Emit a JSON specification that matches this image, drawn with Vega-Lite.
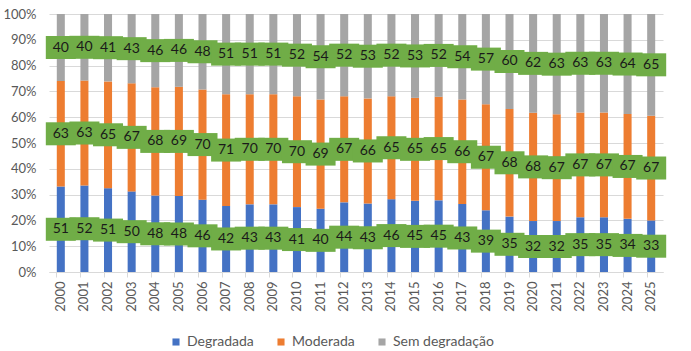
{
  "$schema": "https://vega.github.io/schema/vega-lite/v6.json",
  "width": 614,
  "height": 258,
  "autosize": {"type": "none"},
  "padding": {"left": 49, "top": 14, "right": 28, "bottom": 79},
  "background": "white",
  "config": {"view": {"stroke": null}, "font": "Lato"},
  "data": {"values": [
    {"year": "2000", "serie": "Degradada", "value": 51}, {"year": "2000", "serie": "Moderada", "value": 63}, {"year": "2000", "serie": "Sem degradação", "value": 40},
    {"year": "2001", "serie": "Degradada", "value": 52}, {"year": "2001", "serie": "Moderada", "value": 63}, {"year": "2001", "serie": "Sem degradação", "value": 40},
    {"year": "2002", "serie": "Degradada", "value": 51}, {"year": "2002", "serie": "Moderada", "value": 65}, {"year": "2002", "serie": "Sem degradação", "value": 41},
    {"year": "2003", "serie": "Degradada", "value": 50}, {"year": "2003", "serie": "Moderada", "value": 67}, {"year": "2003", "serie": "Sem degradação", "value": 43},
    {"year": "2004", "serie": "Degradada", "value": 48}, {"year": "2004", "serie": "Moderada", "value": 68}, {"year": "2004", "serie": "Sem degradação", "value": 46},
    {"year": "2005", "serie": "Degradada", "value": 48}, {"year": "2005", "serie": "Moderada", "value": 69}, {"year": "2005", "serie": "Sem degradação", "value": 46},
    {"year": "2006", "serie": "Degradada", "value": 46}, {"year": "2006", "serie": "Moderada", "value": 70}, {"year": "2006", "serie": "Sem degradação", "value": 48},
    {"year": "2007", "serie": "Degradada", "value": 42}, {"year": "2007", "serie": "Moderada", "value": 71}, {"year": "2007", "serie": "Sem degradação", "value": 51},
    {"year": "2008", "serie": "Degradada", "value": 43}, {"year": "2008", "serie": "Moderada", "value": 70}, {"year": "2008", "serie": "Sem degradação", "value": 51},
    {"year": "2009", "serie": "Degradada", "value": 43}, {"year": "2009", "serie": "Moderada", "value": 70}, {"year": "2009", "serie": "Sem degradação", "value": 51},
    {"year": "2010", "serie": "Degradada", "value": 41}, {"year": "2010", "serie": "Moderada", "value": 70}, {"year": "2010", "serie": "Sem degradação", "value": 52},
    {"year": "2011", "serie": "Degradada", "value": 40}, {"year": "2011", "serie": "Moderada", "value": 69}, {"year": "2011", "serie": "Sem degradação", "value": 54},
    {"year": "2012", "serie": "Degradada", "value": 44}, {"year": "2012", "serie": "Moderada", "value": 67}, {"year": "2012", "serie": "Sem degradação", "value": 52},
    {"year": "2013", "serie": "Degradada", "value": 43}, {"year": "2013", "serie": "Moderada", "value": 66}, {"year": "2013", "serie": "Sem degradação", "value": 53},
    {"year": "2014", "serie": "Degradada", "value": 46}, {"year": "2014", "serie": "Moderada", "value": 65}, {"year": "2014", "serie": "Sem degradação", "value": 52},
    {"year": "2015", "serie": "Degradada", "value": 45}, {"year": "2015", "serie": "Moderada", "value": 65}, {"year": "2015", "serie": "Sem degradação", "value": 53},
    {"year": "2016", "serie": "Degradada", "value": 45}, {"year": "2016", "serie": "Moderada", "value": 65}, {"year": "2016", "serie": "Sem degradação", "value": 52},
    {"year": "2017", "serie": "Degradada", "value": 43}, {"year": "2017", "serie": "Moderada", "value": 66}, {"year": "2017", "serie": "Sem degradação", "value": 54},
    {"year": "2018", "serie": "Degradada", "value": 39}, {"year": "2018", "serie": "Moderada", "value": 67}, {"year": "2018", "serie": "Sem degradação", "value": 57},
    {"year": "2019", "serie": "Degradada", "value": 35}, {"year": "2019", "serie": "Moderada", "value": 68}, {"year": "2019", "serie": "Sem degradação", "value": 60},
    {"year": "2020", "serie": "Degradada", "value": 32}, {"year": "2020", "serie": "Moderada", "value": 68}, {"year": "2020", "serie": "Sem degradação", "value": 62},
    {"year": "2021", "serie": "Degradada", "value": 32}, {"year": "2021", "serie": "Moderada", "value": 67}, {"year": "2021", "serie": "Sem degradação", "value": 63},
    {"year": "2022", "serie": "Degradada", "value": 35}, {"year": "2022", "serie": "Moderada", "value": 67}, {"year": "2022", "serie": "Sem degradação", "value": 63},
    {"year": "2023", "serie": "Degradada", "value": 35}, {"year": "2023", "serie": "Moderada", "value": 67}, {"year": "2023", "serie": "Sem degradação", "value": 63},
    {"year": "2024", "serie": "Degradada", "value": 34}, {"year": "2024", "serie": "Moderada", "value": 67}, {"year": "2024", "serie": "Sem degradação", "value": 64},
    {"year": "2025", "serie": "Degradada", "value": 33}, {"year": "2025", "serie": "Moderada", "value": 67}, {"year": "2025", "serie": "Sem degradação", "value": 65}
  ]},
  "transform": [
    {"stack": "value", "groupby": ["year"], "sort": [{"field": "serie", "order": "ascending"}], "offset": "normalize", "as": ["y0", "y1"]}
  ],
  "encoding": {
    "x": {
      "field": "year", "type": "ordinal",
      "scale": {"paddingInner": 0.66, "paddingOuter": 0.33},
      "axis": {"title": null, "labelAngle": 270, "labelFontSize": 13, "labelColor": "#595959", "labelPadding": 4, "bandPosition": 0, "ticks": true, "tickSize": 5, "tickColor": "#D9D9D9", "domainColor": "#D9D9D9", "domainWidth": 1}
    }
  },
  "layer": [
    {
      "mark": {"type": "bar"},
      "encoding": {
        "y": {
          "field": "y0", "type": "quantitative",
          "scale": {"domain": [0, 1], "nice": false},
          "axis": {"title": null, "format": "%", "values": [0, 0.1, 0.2, 0.3, 0.4, 0.5, 0.6, 0.7, 0.8, 0.9, 1], "labelOverlap": false, "domain": false, "ticks": false, "gridColor": "#D9D9D9", "labelFontSize": 13, "labelColor": "#595959", "labelPadding": 13}
        },
        "y2": {"field": "y1"},
        "color": {
          "field": "serie", "type": "nominal",
          "scale": {"domain": ["Degradada", "Moderada", "Sem degradação"], "range": ["#4472C4", "#ED7D31", "#A5A5A5"]},
          "legend": {"orient": "none", "direction": "horizontal", "legendX": 120, "legendY": 321, "title": null, "symbolType": "square", "symbolSize": 50, "symbolStrokeWidth": 0, "labelFontSize": 14, "labelColor": "#595959", "labelOffset": 4, "columnPadding": 20}
        }
      }
    },
    {
      "transform": [
        {"fold": ["y0", "y1"], "as": ["edge", "pos"]},
        {"aggregate": [{"op": "mean", "field": "pos", "as": "mid"}], "groupby": ["year", "serie", "value"]}
      ],
      "encoding": {
        "y": {
          "field": "mid", "type": "quantitative",
          "axis": {"title": null, "format": "%", "values": [0, 0.1, 0.2, 0.3, 0.4, 0.5, 0.6, 0.7, 0.8, 0.9, 1], "labelOverlap": false, "domain": false, "ticks": false, "gridColor": "#D9D9D9", "labelFontSize": 13, "labelColor": "#595959", "labelPadding": 13}
        }
      },
      "layer": [
        {
          "mark": {"type": "point", "shape": "M-1,-0.767L1,-0.767L1,0.767L-1,0.767Z", "filled": true, "color": "#70AD47", "opacity": 1, "size": 900},
          "encoding": {}
        },
        {
          "mark": {"type": "text", "fontSize": 14, "color": "#1a1a1a", "baseline": "middle", "align": "center"},
          "encoding": {"text": {"field": "value", "type": "quantitative"}}
        }
      ]
    }
  ]
}
